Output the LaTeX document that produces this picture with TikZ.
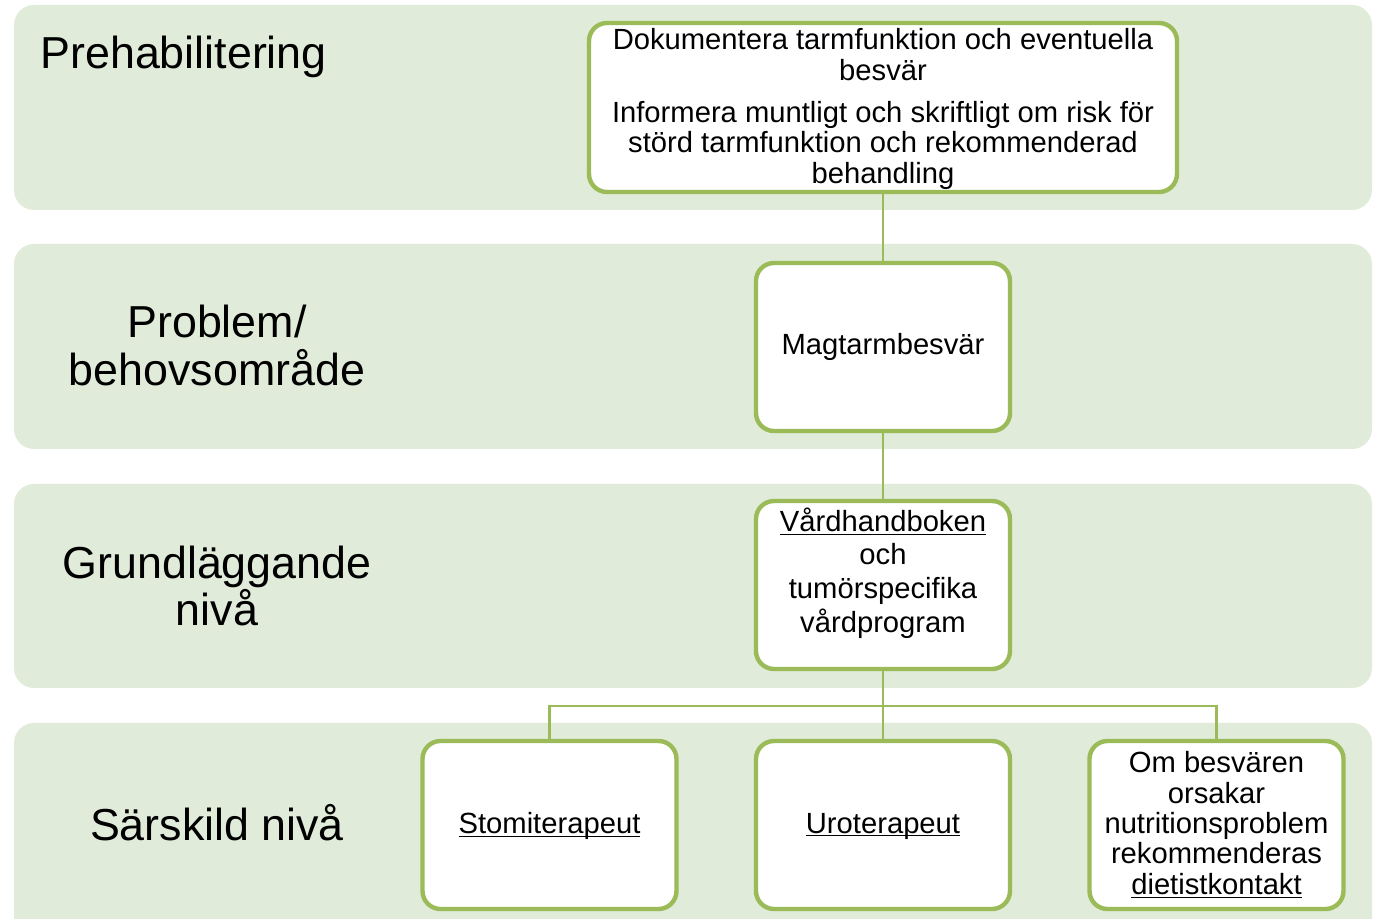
\documentclass[tikz,border=0pt]{standalone}
\usepackage{fontspec}
\setmainfont{Liberation Sans}
\definecolor{bandfill}{RGB}{224,235,217}
\definecolor{accent}{RGB}{155,187,89}
\newcommand{\bodyfont}{\fontsize{14.6}{15.2}\selectfont}
\newcommand{\lvlfont}{\fontsize{22.4}{24}\selectfont}
\newcommand{\ulink}[1]{\underline{\raisebox{0pt}[\height][0pt]{#1}}}

\begin{document}
\begin{tikzpicture}[x=0.5pt,y=-0.5pt,
  band/.style={fill=bandfill, rounded corners=10pt},
  box/.style={draw=accent, line width=2.2pt, fill=white, rounded corners=9pt,
    inner sep=0pt, align=center, font=\bodyfont},
  smallbox/.style={box, minimum width=127pt, minimum height=84pt},
  link/.style={draw=accent, line width=1.1pt},
  lvl/.style={font=\lvlfont, align=center, inner sep=0pt}]

\useasboundingbox (0,0) rectangle (1373,919);

% level bands
\begin{scope}
  \clip (0,0) rectangle (1373,919);
  \fill[band] (14,5) rectangle (1372,210);
  \fill[band] (14,244) rectangle (1372,449);
  \fill[band] (14,484) rectangle (1372,688);
  \fill[band] (14,723) rectangle (1372,960);
\end{scope}

% level titles
\node[lvl, anchor=base west] (l1) at (40,69) {Prehabilitering};
\node[lvl] (l2) at (217,345) {Problem/\\behovsområde};
\node[lvl, font=\fontsize{22.4}{22}\selectfont] (l3) at (217,586) {Grundläggande\\nivå};
\node[lvl] (l4) at (217,823) {Särskild nivå};

% boxes
\node[box, minimum width=294pt, minimum height=84.5pt] (top) at (883,107.5) {};
\node[align=center, inner sep=0pt, font=\bodyfont] (toptext) at (883,109)
  {Dokumentera tarmfunktion och eventuella\\besvär\\[6pt]
   Informera muntligt och skriftligt om risk för\\störd tarmfunktion och rekommenderad\\behandling};
\node[smallbox] (mag) at (883,347) {Magtarmbesvär};
\node[smallbox] (vard) at (883,585) {};
\node[align=center, inner sep=0pt, font=\fontsize{14.6}{16.8}\selectfont] (vardtext) at (883,573)
  {\ulink{Vårdhandboken}\\och\\tumörspecifika\\vårdprogram};
\node[smallbox] (stomi) at (549.5,825) {\ulink{Stomiterapeut}};
\node[smallbox] (uro) at (883,825) {\ulink{Uroterapeut}};
\node[smallbox] (diet) at (1216.5,825)
  {Om besvären\\orsakar\\nutritionsproblem\\rekommenderas\\\ulink{dietistkontakt}};

% connectors
\coordinate (bus) at (883,706);
\draw[link] (top.south) -- (mag.north);
\draw[link] (mag.south) -- (vard.north);
\draw[link] (vard.south) -- (uro.north);
\draw[link] (stomi.north) |- (bus) -| (diet.north);
\end{tikzpicture}
\end{document}
